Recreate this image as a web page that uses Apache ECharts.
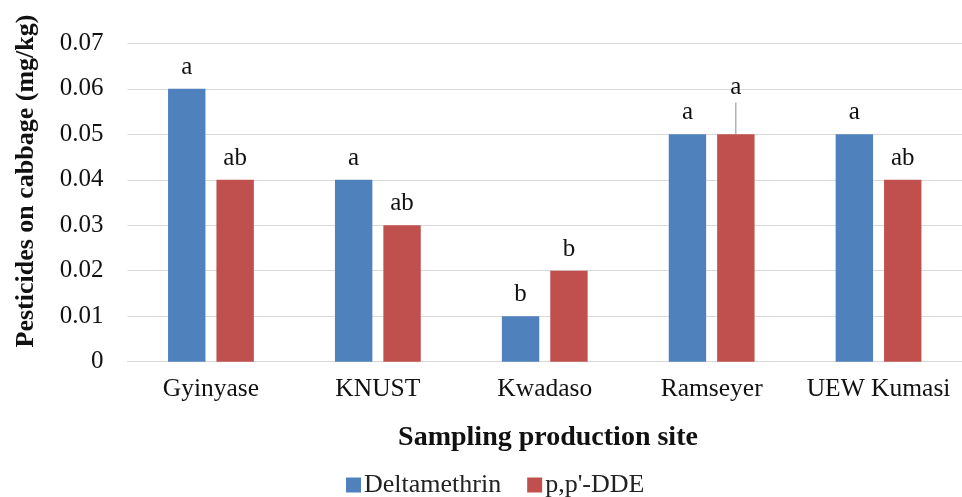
<!DOCTYPE html>
<html>
<head>
<meta charset="utf-8">
<script src="https://cdn.jsdelivr.net/npm/echarts@6/dist/echarts.min.js"></script>
<style>
  html, body { margin: 0; padding: 0; background: #fff; }
  #chart { width: 962px; height: 497px; }
</style>
</head>
<body>
<div id="chart"></div>
<script>
// Pesticide residues on cabbage by sampling site (mg/kg)
const sites = ['Gyinyase', 'KNUST', 'Kwadaso', 'Ramseyer', 'UEW Kumasi'];
const deltamethrin = [0.06, 0.04, 0.01, 0.05, 0.05];
const ppDDE = [0.04, 0.03, 0.02, 0.05, 0.04];
// significance letters shown above each bar
const deltamethrinLetters = ['a', 'a', 'b', 'a', 'a'];
const ppDDELetters = ['ab', 'ab', 'b', 'a', 'ab'];
// upper error for p,p'-DDE (only Ramseyer has one drawn)
const ppDDEError = [0, 0, 0, 0.007, 0];
const yTicks = [0, 0.01, 0.02, 0.03, 0.04, 0.05, 0.06, 0.07];

const FONT = '"Liberation Serif", "Times New Roman", serif';
const BAR_W = 37.4;
const BAR_GAP = 11;

const chart = echarts.init(document.getElementById('chart'), null, { renderer: 'canvas' });

function labelFor(letters, errors) {
  return function (i, v) {
    const extra = errors && errors[i] ? 25 : 0;
    return {
      value: v,
      label: { formatter: letters[i], distance: 9 + extra }
    };
  };
}

const option = {
  backgroundColor: '#ffffff',
  animation: false,
  textStyle: { fontFamily: FONT },
  grid: { left: 127.5, top: 43.3, width: 843.5, height: 318.4, containLabel: false },
  legend: {
    left: 341,
    top: 467,
    itemWidth: 15,
    itemHeight: 15,
    itemGap: 26,
    icon: 'rect',
    textStyle: { fontFamily: FONT, fontSize: 26, color: '#222', padding: [0, 0, 0, -2] },
    data: ['Deltamethrin', "p,p'-DDE"]
  },
  xAxis: {
    type: 'category',
    data: sites,
    axisLine: { show: true, lineStyle: { color: '#d9d9d9', width: 1 } },
    axisTick: { show: false },
    axisLabel: { interval: 0, fontFamily: FONT, fontSize: 25.5, color: '#111', margin: 15 }
  },
  yAxis: {
    type: 'value',
    min: yTicks[0],
    max: yTicks[yTicks.length - 1],
    interval: 0.01,
    axisLine: { show: false },
    axisTick: { show: false },
    splitLine: { show: true, lineStyle: { color: '#d9d9d9', width: 1 } },
    axisLabel: {
      fontFamily: FONT, fontSize: 25, color: '#111', margin: 24,
      formatter: v => (v === 0 ? '0' : v.toFixed(2))
    }
  },
  series: [
    {
      name: 'Deltamethrin',
      type: 'bar',
      barWidth: BAR_W,
      barGap: (BAR_GAP / BAR_W * 100).toFixed(1) + '%',
      itemStyle: { color: '#4f81bd' },
      label: { show: true, position: 'top', fontFamily: FONT, fontSize: 25, color: '#111' },
      data: deltamethrin.map((v, i) => labelFor(deltamethrinLetters, null)(i, v))
    },
    {
      name: "p,p'-DDE",
      type: 'bar',
      barWidth: BAR_W,
      barGap: (BAR_GAP / BAR_W * 100).toFixed(1) + '%',
      itemStyle: { color: '#c0504d' },
      label: { show: true, position: 'top', fontFamily: FONT, fontSize: 25, color: '#111' },
      data: ppDDE.map((v, i) => labelFor(ppDDELetters, ppDDEError)(i, v))
    },
    {
      // upper error whisker on the p,p'-DDE bars
      name: 'error',
      type: 'custom',
      silent: true,
      z: 5,
      data: ppDDE.map((v, i) => [i, v, v + ppDDEError[i]]),
      renderItem: function (params, api) {
        const lo = api.value(1), hi = api.value(2);
        if (!(hi > lo)) return null;
        const shift = (BAR_W + BAR_GAP) / 2;
        const p0 = api.coord([api.value(0), lo]);
        const p1 = api.coord([api.value(0), hi]);
        return {
          type: 'line',
          shape: { x1: p0[0] + shift, y1: p0[1], x2: p1[0] + shift, y2: p1[1] },
          style: { stroke: '#8c8c8c', lineWidth: 1 }
        };
      }
    }
  ],
  graphic: [
    {
      type: 'text',
      x: 26, y: 181,
      rotation: Math.PI / 2,
      style: {
        text: 'Pesticides on cabbage (mg/kg)',
        font: 'bold 26px ' + FONT,
        fill: '#111',
        textAlign: 'center',
        textVerticalAlign: 'middle'
      }
    },
    {
      type: 'text',
      x: 548, y: 438,
      style: {
        text: 'Sampling production site',
        font: 'bold 28px ' + FONT,
        fill: '#111',
        textAlign: 'center',
        textVerticalAlign: 'middle'
      }
    }
  ]
};

chart.setOption(option);
</script>
</body>
</html>
